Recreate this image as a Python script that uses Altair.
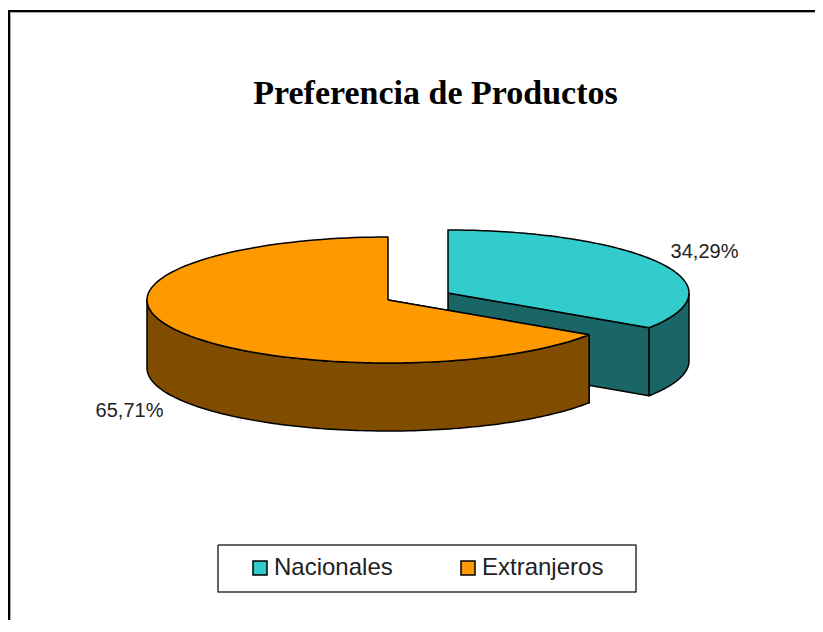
import numpy as np
import pandas as pd
import altair as alt

categories = ["Nacionales", "Extranjeros"]
shares = [34.29, 65.71]
labels = ["34,29%", "65,71%"]
colors = ["#33CCCC", "#FF9900"]
dark_colors = ["#1A6666", "#804D00"]
title_text = "Preferencia de Productos"

W, H = 807, 612
RX, RY, DEPTH = 241, 63, 68
centers = {"Nacionales": (448, 293), "Extranjeros": (388, 300)}

x_scale = alt.Scale(domain=[8, 8 + W], range=[0, W], nice=False, zero=False)
y_scale = alt.Scale(domain=[8, 8 + H], range=[0, H], nice=False, zero=False)
X = lambda: alt.X("x:Q", scale=x_scale, axis=None)
Y = lambda: alt.Y("y:Q", scale=y_scale, axis=None)


def rim(cat, a0, a1, dy=0, n=120):
    cx, cy = centers[cat]
    t = np.radians(np.linspace(a0, a1, n))
    return list(zip(cx + RX * np.sin(t), cy - RY * np.cos(t) + dy))


def shape(points, fill, stroke="#000000", width=1.5):
    df = pd.DataFrame(points, columns=["x", "y"])
    df["i"] = range(len(df))
    return (
        alt.Chart(df)
        .mark_line(fill=fill, stroke=stroke, strokeWidth=width, strokeJoin="round", clip=True)
        .encode(x=X(), y=Y(), order="i:Q")
    )


split = shares[0] / 100 * 360
nat, ext = categories
cn = centers[nat]
ce = centers[ext]

layers = []
# Nacionales: cut face, outer wall, top
cut_end = rim(nat, split, split, n=1)[0]
layers.append(shape([cn, cut_end, (cut_end[0], cut_end[1] + DEPTH), (cn[0], cn[1] + DEPTH), cn], dark_colors[0]))
wall = rim(nat, 90, split) + rim(nat, split, 90, DEPTH)
layers.append(shape(wall + wall[:1], dark_colors[0]))
top = [cn] + rim(nat, 0, split) + [cn]
layers.append(shape(top, colors[0]))
# Extranjeros: cut face, outer wall, top
ecut = rim(ext, split, split, n=1)[0]
layers.append(shape([ce, ecut, (ecut[0], ecut[1] + DEPTH), (ce[0], ce[1] + DEPTH), ce], dark_colors[1]))
wall = rim(ext, split, 270) + rim(ext, 270, split, DEPTH)
layers.append(shape(wall + wall[:1], dark_colors[1]))
top = [ce] + rim(ext, split, 360) + [ce]
layers.append(shape(top, colors[1]))

# outer frame: left and top edges only (the right and bottom run off the picture)
frame_x = [9, 9, 900]
frame_y = [900, 11, 11]
frame = pd.DataFrame({"x": frame_x, "y": frame_y, "i": [0, 1, 2]})
layers.append(
    alt.Chart(frame)
    .mark_line(stroke="#000000", strokeWidth=2, clip=True)
    .encode(x=X(), y=Y(), order="i:Q")
)
shadow = pd.DataFrame({"x": [10.5, 10.5, 900], "y": [900, 12.5, 12.5], "i": [0, 1, 2]})
layers.append(
    alt.Chart(shadow)
    .mark_line(stroke="#AAAAAA", strokeWidth=1, clip=True)
    .encode(x=X(), y=Y(), order="i:Q")
)

# legend box
box_x = [218, 636, 636, 218, 218]
box_y = [545, 545, 592, 592, 545]
box = list(zip(box_x, box_y))
layers.append(shape(box, "#FFFFFF", stroke="#333333", width=1.5))

# text
txt = pd.DataFrame({
    "x": [704.5, 129.5, 435.5],
    "y": [252, 411, 94],
    "t": [labels[0], labels[1], title_text],
    "kind": ["l", "l", "t"],
})
layers.append(
    alt.Chart(txt[txt.kind == "l"])
    .mark_text(font="Liberation Sans", fontSize=20, color="#222222", align="center", baseline="middle")
    .encode(x=X(), y=Y(), text="t:N")
)
layers.append(
    alt.Chart(txt[txt.kind == "t"])
    .mark_text(font="Liberation Serif", fontSize=34, fontWeight="bold", color="#000000", align="center", baseline="middle")
    .encode(x=X(), y=Y(), text="t:N")
)

# legend
legend_df = pd.DataFrame({"cat": categories, "x": [-100, -100], "y": [-100, -100]})
layers.append(
    alt.Chart(legend_df)
    .mark_point(filled=True, shape="square", clip=True, opacity=1)
    .encode(
        x=X(),
        y=Y(),
        color=alt.Color(
            "cat:N",
            scale=alt.Scale(domain=categories, range=colors),
            legend=alt.Legend(
                orient="none",
                legendX=240,
                legendY=548,
                direction="horizontal",
                title=None,
                symbolType="square",
                symbolSize=196,
                symbolStrokeColor="#000000",
                symbolStrokeWidth=1.5,
                labelFont="Liberation Sans",
                labelFontSize=24,
                labelColor="#222222",
                labelOffset=2,
                columnPadding=63,
                padding=0,
                symbolOpacity=1,
            ),
        ),
    )
)

chart = (
    alt.layer(*layers)
    .properties(width=W, height=H, padding=0, autosize=alt.AutoSizeParams(type="none"))
    .configure_view(stroke=None)
)
chart.save("out.html", embed_options={"renderer": "svg", "actions": False})
